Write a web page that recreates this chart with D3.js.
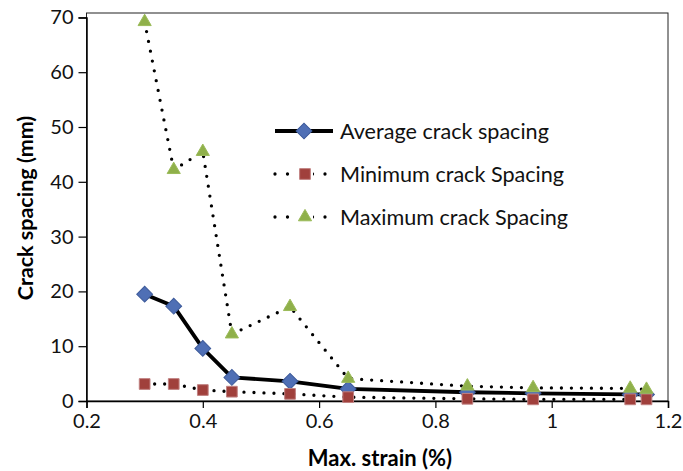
<!DOCTYPE html>
<html><head><meta charset="utf-8">
<script src="https://cdn.jsdelivr.net/npm/d3@7"></script>
<style>body{margin:0;background:#fff}svg{display:block}</style>
</head><body>
<script>
const strain = [0.3, 0.35, 0.4, 0.45, 0.55, 0.65, 0.855, 0.968, 1.135, 1.163];
const avgSpacing = [19.5, 17.3, 9.6, 4.3, 3.6, 2.2, 1.6, 1.4, 1.2, 1.2];
const minSpacing = [3.1, 3.1, 2.0, 1.7, 1.3, 0.7, 0.4, 0.3, 0.3, 0.3];
const maxSpacing = [69.2, 42.2, 45.5, 12.2, 17.2, 4.1, 2.7, 2.4, 2.3, 2.1];
const xTicks = [0.2, 0.4, 0.6, 0.8, 1, 1.2];
const yTicks = [0, 10, 20, 30, 40, 50, 60, 70];
const seriesNames = ["Average crack spacing", "Minimum crack Spacing", "Maximum crack Spacing"];

const W = 683, H = 471;
const font = "Lato, 'Open Sans', sans-serif";
const svg = d3.select("body").append("svg").attr("width", W).attr("height", H);

const x = d3.scaleLinear().domain([0.2, 1.2]).range([86.5, 668]);
const y = d3.scaleLinear().domain([0, 70]).range([401, 17.4]);

svg.append("rect").attr("x", 86.5).attr("y", 13).attr("width", 668 - 86.5).attr("height", 401 - 13)
  .attr("fill", "none").attr("stroke", "#222").attr("stroke-width", 1);

const xAxis = svg.append("g").attr("transform", "translate(0,401)")
  .call(d3.axisBottom(x).tickValues(xTicks).tickSize(7).tickPadding(6).tickFormat(d3.format("")));
const yAxis = svg.append("g").attr("transform", "translate(86.5,0)")
  .call(d3.axisLeft(y).tickValues(yTicks).tickSize(8).tickPadding(5));
[xAxis, yAxis].forEach(a => {
  a.select(".domain").attr("stroke", "#000").attr("stroke-width", 1.5);
  a.selectAll(".tick line").attr("stroke", "#000").attr("stroke-width", 1.2);
  a.selectAll("text").attr("font-family", font).attr("font-size", 20).attr("fill", "#111");
});

svg.append("text").attr("x", 380).attr("y", 466).attr("text-anchor", "middle")
  .attr("font-family", font).attr("font-weight", "bold").attr("font-size", 22).text("Max. strain (%)");
svg.append("text").attr("transform", "translate(33,208) rotate(-90)").attr("text-anchor", "middle")
  .attr("font-family", font).attr("font-weight", "bold").attr("font-size", 21.5).text("Crack spacing (mm)");

const line = d3.line().x(d => x(d[0])).y(d => y(d[1]));
const zip = vals => strain.map((s, i) => [s, vals[i]]);

const dotStyle = sel => sel.attr("fill", "none").attr("stroke", "#000").attr("stroke-width", 3.3)
  .attr("stroke-linecap", "round").attr("stroke-dasharray", "0 10");

svg.append("path").datum(zip(maxSpacing)).attr("d", line).call(dotStyle);
svg.append("path").datum(zip(minSpacing)).attr("d", line).call(dotStyle);
svg.append("path").datum(zip(avgSpacing)).attr("d", line)
  .attr("fill", "none").attr("stroke", "#000").attr("stroke-width", 3.8).attr("stroke-linejoin", "round");

const diamond = d3.symbol().type(d3.symbolSquare).size(125)();
const square = d3.symbol().type(d3.symbolSquare).size(115)();
const tri = d3.symbol().type(d3.symbolTriangle).size(75)();

function markers(vals, path, fill, stroke, rot) {
  svg.append("g").selectAll("path").data(zip(vals)).join("path")
    .attr("d", path)
    .attr("transform", d => `translate(${x(d[0])},${y(d[1])}) rotate(${rot})`)
    .attr("fill", fill).attr("stroke", stroke).attr("stroke-width", 1);
}
markers(avgSpacing, diamond, "#4f6fb5", "#3d5a9a", 45);
markers(minSpacing, square, "#a0403c", "#c08080", 0);
markers(maxSpacing, tri, "#8fb04a", "#9bbb59", 0);

// legend
const lg = svg.append("g");
const rows = [131, 174, 217];
lg.append("line").attr("x1", 275).attr("x2", 333).attr("y1", rows[0]).attr("y2", rows[0])
  .attr("stroke", "#000").attr("stroke-width", 3.8);
[1, 2].forEach(i => {
  lg.append("path").attr("d", `M275,${rows[i]}L333,${rows[i]}`).call(dotStyle).attr("stroke-dasharray", "0 12.5");
});
lg.append("path").attr("d", diamond).attr("transform", `translate(304,${rows[0]}) rotate(45)`).attr("fill", "#4f6fb5").attr("stroke", "#3d5a9a");
lg.append("rect").attr("x", 297).attr("y", rows[1] - 7).attr("width", 16).attr("height", 14).attr("fill", "#fff");
lg.append("rect").attr("x", 297).attr("y", rows[2] - 7).attr("width", 16).attr("height", 14).attr("fill", "#fff");
lg.append("path").attr("d", square).attr("transform", `translate(305,${rows[1]})`).attr("fill", "#a0403c").attr("stroke", "#c08080");
lg.append("path").attr("d", tri).attr("transform", `translate(305,${rows[2]})`).attr("fill", "#8fb04a").attr("stroke", "#9bbb59");
seriesNames.forEach((n, i) => {
  lg.append("text").attr("x", 340).attr("y", rows[i] + 8)
    .attr("font-family", font).attr("font-size", 21.6).attr("fill", "#111").text(n);
});
</script>
</body></html>
